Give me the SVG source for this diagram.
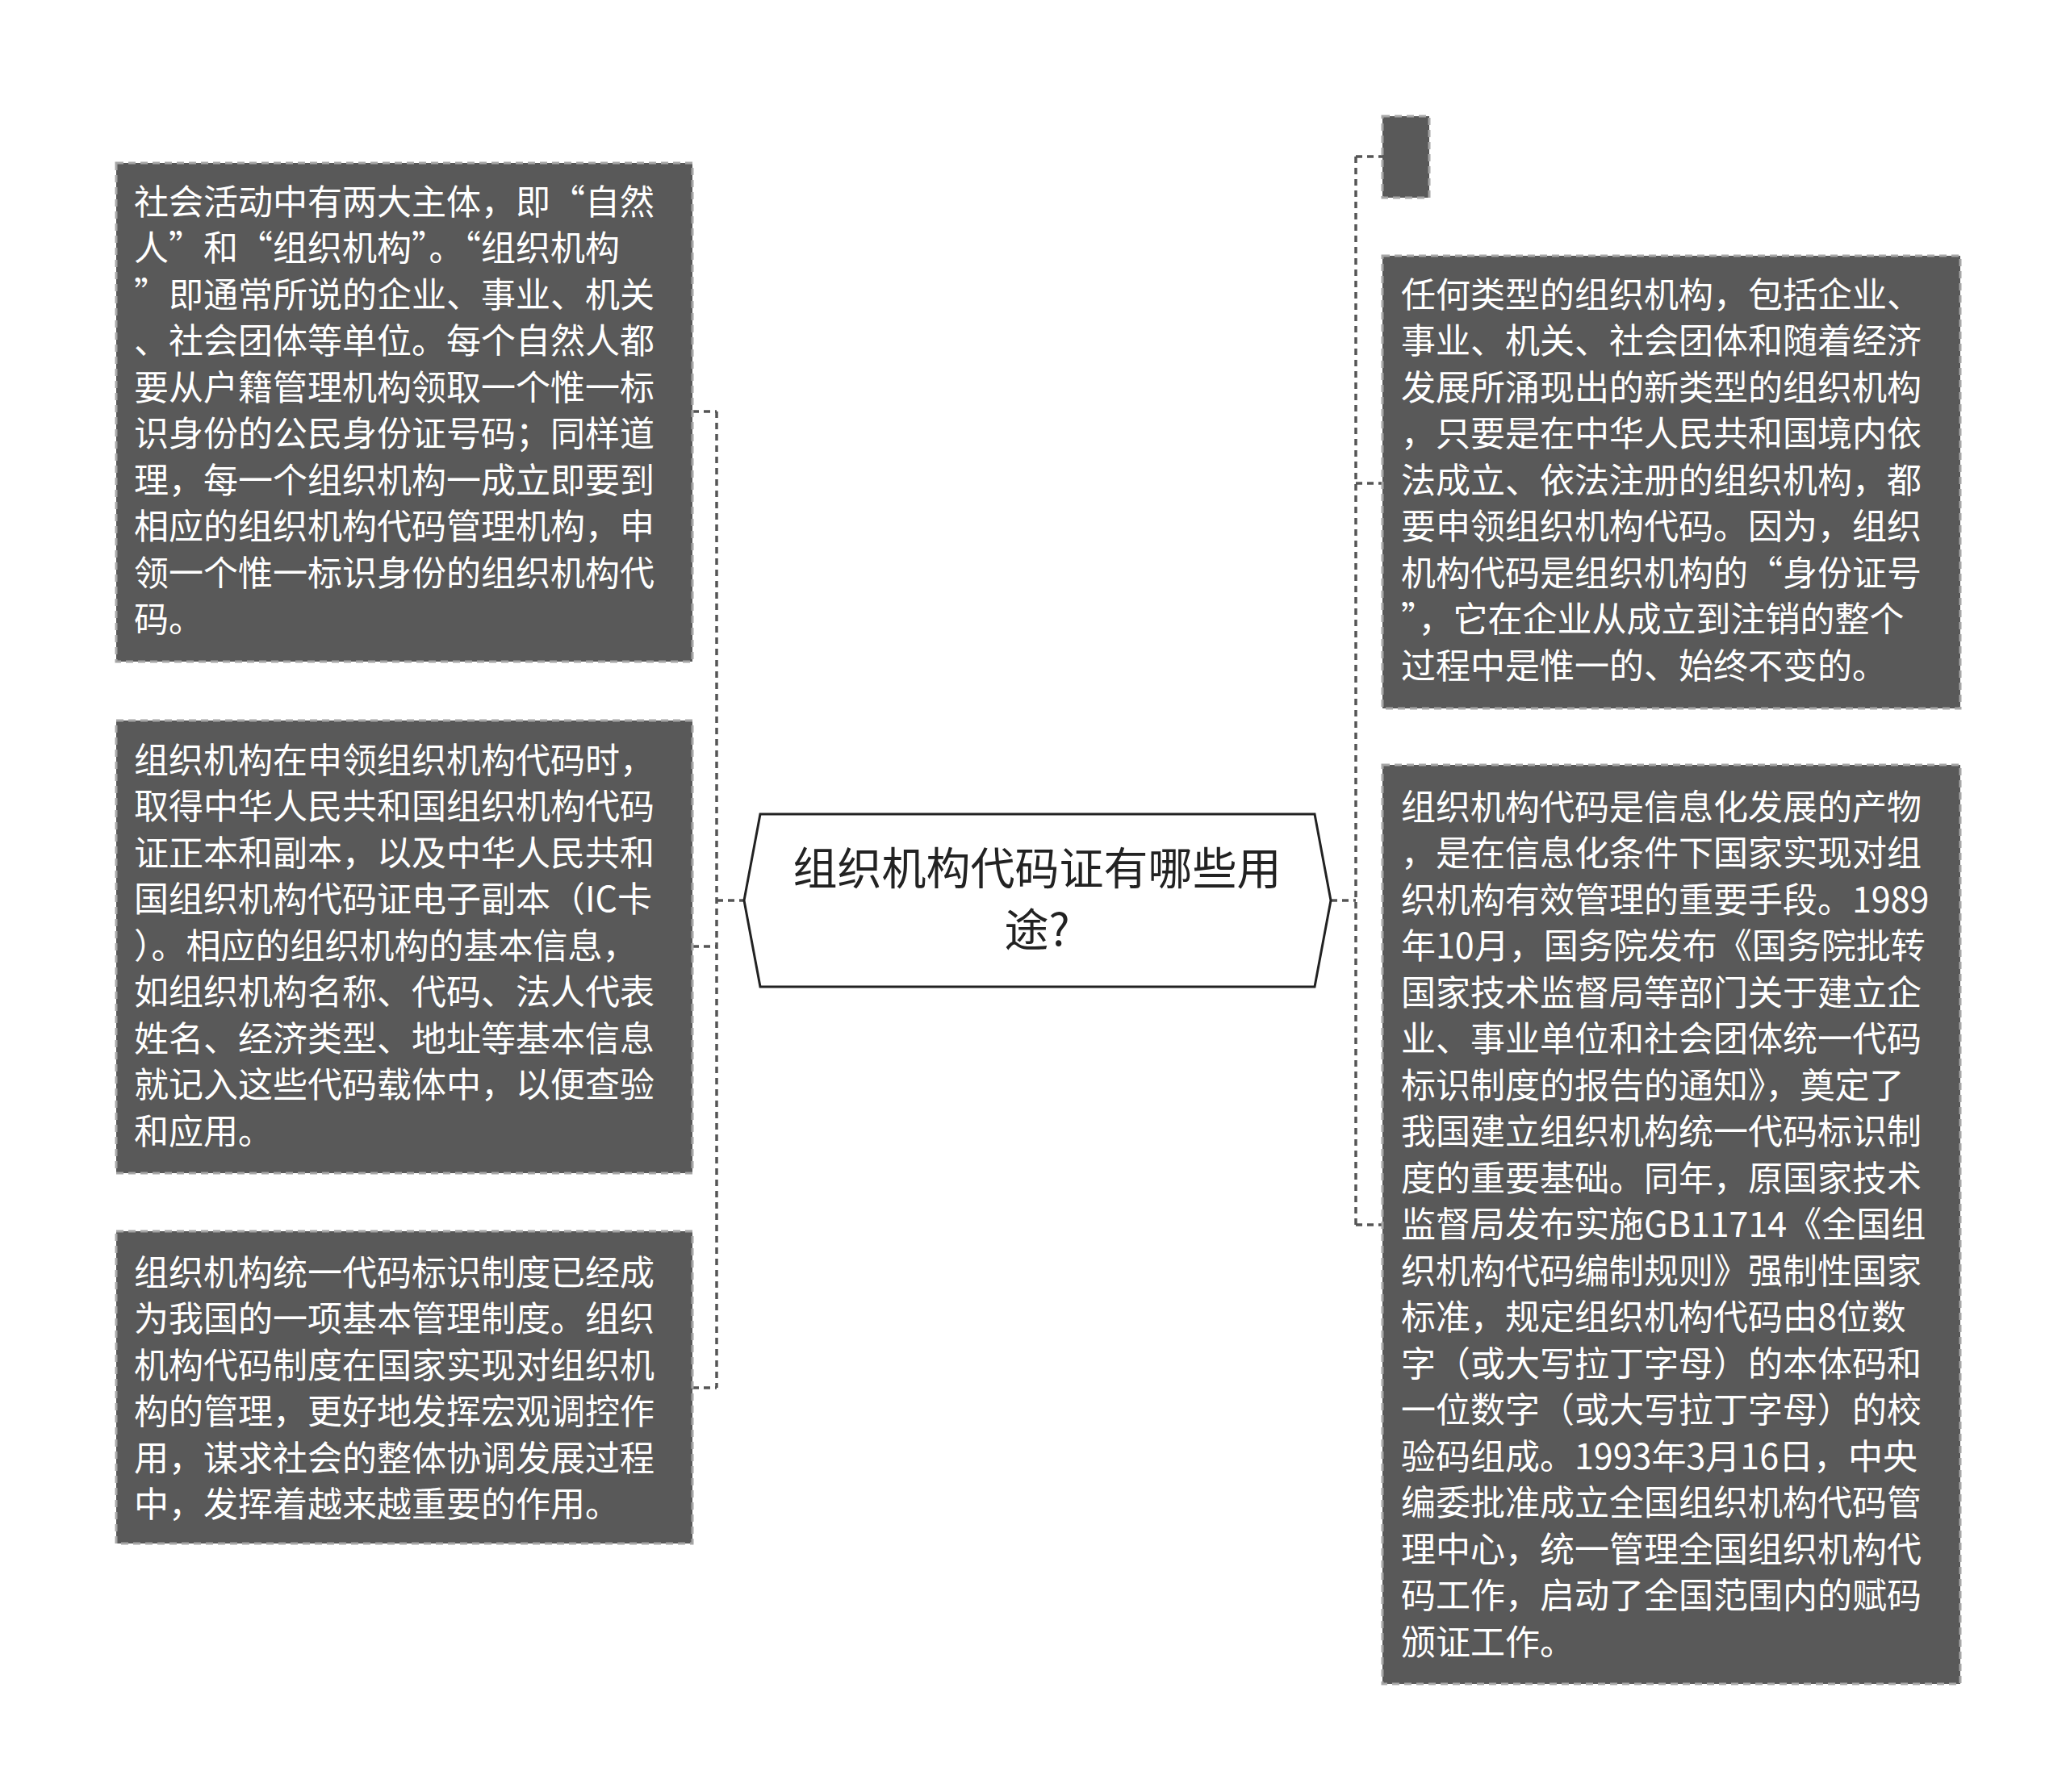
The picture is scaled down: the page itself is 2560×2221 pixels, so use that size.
<svg xmlns="http://www.w3.org/2000/svg" width="2560" height="2221" viewBox="0 0 2560 2221">
<style>
.box{fill:#595959;stroke:#a6a6a6;stroke-width:3;stroke-dasharray:9 6}
.t{font-family:"Noto Sans CJK SC","Liberation Sans",sans-serif;font-size:43px;fill:#ffffff}
.c{font-family:"Noto Sans CJK SC","Liberation Sans",sans-serif;font-size:55px;fill:#222;text-anchor:middle}
.ln{fill:none;stroke:#555;stroke-width:3.5;stroke-dasharray:8 6}
</style>
<rect width="2560" height="2221" fill="#fff"/>
<g id="connectors">
<path class="ln" d="M888 510V1720M858 510H888M858 1173H888M858 1720H888M888 1116H922"/>
<path class="ln" d="M1680 194V1518M1680 194H1713M1680 599H1713M1680 1518H1713M1649 1116H1680"/>
</g>
<g id="center">
<path d="M942 1009H1629L1649 1116L1629 1223H942L922 1116Z" fill="#fff" stroke="#222" stroke-width="3"/>
<text class="c" x="1285" y="1096">组织机构代码证有哪些用</text>
<text class="c" x="1285" y="1172">途?</text>
</g>
<g id="left1">
<rect class="box" x="144" y="202" width="714" height="618"/>
<text class="t" x="166" y="266">社会活动中有两大主体，即“自然</text>
<text class="t" x="166" y="323">人”和“组织机构”。“组织机构</text>
<text class="t" x="166" y="381">”即通常所说的企业、事业、机关</text>
<text class="t" x="166" y="438">、社会团体等单位。每个自然人都</text>
<text class="t" x="166" y="496">要从户籍管理机构领取一个惟一标</text>
<text class="t" x="166" y="553">识身份的公民身份证号码；同样道</text>
<text class="t" x="166" y="611">理，每一个组织机构一成立即要到</text>
<text class="t" x="166" y="668">相应的组织机构代码管理机构，申</text>
<text class="t" x="166" y="726">领一个惟一标识身份的组织机构代</text>
<text class="t" x="166" y="783">码。</text>
</g>
<g id="left2">
<rect class="box" x="144" y="893" width="714" height="561"/>
<text class="t" x="166" y="958">组织机构在申领组织机构代码时，</text>
<text class="t" x="166" y="1015">取得中华人民共和国组织机构代码</text>
<text class="t" x="166" y="1073">证正本和副本，以及中华人民共和</text>
<text class="t" x="166" y="1130">国组织机构代码证电子副本（IC卡</text>
<text class="t" x="166" y="1188">）。相应的组织机构的基本信息，</text>
<text class="t" x="166" y="1245">如组织机构名称、代码、法人代表</text>
<text class="t" x="166" y="1303">姓名、经济类型、地址等基本信息</text>
<text class="t" x="166" y="1360">就记入这些代码载体中，以便查验</text>
<text class="t" x="166" y="1418">和应用。</text>
</g>
<g id="left3">
<rect class="box" x="144" y="1526" width="714" height="387"/>
<text class="t" x="166" y="1593">组织机构统一代码标识制度已经成</text>
<text class="t" x="166" y="1650">为我国的一项基本管理制度。组织</text>
<text class="t" x="166" y="1708">机构代码制度在国家实现对组织机</text>
<text class="t" x="166" y="1765">构的管理，更好地发挥宏观调控作</text>
<text class="t" x="166" y="1823">用，谋求社会的整体协调发展过程</text>
<text class="t" x="166" y="1880">中，发挥着越来越重要的作用。</text>
</g>
<g id="right0">
<rect class="box" x="1713" y="144" width="58" height="101"/>
</g>
<g id="right1">
<rect class="box" x="1713" y="317" width="716" height="561"/>
<text class="t" x="1736" y="381">任何类型的组织机构，包括企业、</text>
<text class="t" x="1736" y="438">事业、机关、社会团体和随着经济</text>
<text class="t" x="1736" y="496">发展所涌现出的新类型的组织机构</text>
<text class="t" x="1736" y="553">，只要是在中华人民共和国境内依</text>
<text class="t" x="1736" y="611">法成立、依法注册的组织机构，都</text>
<text class="t" x="1736" y="668">要申领组织机构代码。因为，组织</text>
<text class="t" x="1736" y="726">机构代码是组织机构的“身份证号</text>
<text class="t" x="1736" y="783">”，它在企业从成立到注销的整个</text>
<text class="t" x="1736" y="841">过程中是惟一的、始终不变的。</text>
</g>
<g id="right2">
<rect class="box" x="1713" y="948" width="716" height="1139"/>
<text class="t" x="1736" y="1016">组织机构代码是信息化发展的产物</text>
<text class="t" x="1736" y="1073">，是在信息化条件下国家实现对组</text>
<text class="t" x="1736" y="1131">织机构有效管理的重要手段。1989</text>
<text class="t" x="1736" y="1188">年10月，国务院发布《国务院批转</text>
<text class="t" x="1736" y="1246">国家技术监督局等部门关于建立企</text>
<text class="t" x="1736" y="1303">业、事业单位和社会团体统一代码</text>
<text class="t" x="1736" y="1361">标识制度的报告的通知》，奠定了</text>
<text class="t" x="1736" y="1418">我国建立组织机构统一代码标识制</text>
<text class="t" x="1736" y="1476">度的重要基础。同年，原国家技术</text>
<text class="t" x="1736" y="1533">监督局发布实施GB11714《全国组</text>
<text class="t" x="1736" y="1591">织机构代码编制规则》强制性国家</text>
<text class="t" x="1736" y="1648">标准，规定组织机构代码由8位数</text>
<text class="t" x="1736" y="1706">字（或大写拉丁字母）的本体码和</text>
<text class="t" x="1736" y="1763">一位数字（或大写拉丁字母）的校</text>
<text class="t" x="1736" y="1821">验码组成。1993年3月16日，中央</text>
<text class="t" x="1736" y="1878">编委批准成立全国组织机构代码管</text>
<text class="t" x="1736" y="1936">理中心，统一管理全国组织机构代</text>
<text class="t" x="1736" y="1993">码工作，启动了全国范围内的赋码</text>
<text class="t" x="1736" y="2051">颁证工作。</text>
</g>
</svg>
